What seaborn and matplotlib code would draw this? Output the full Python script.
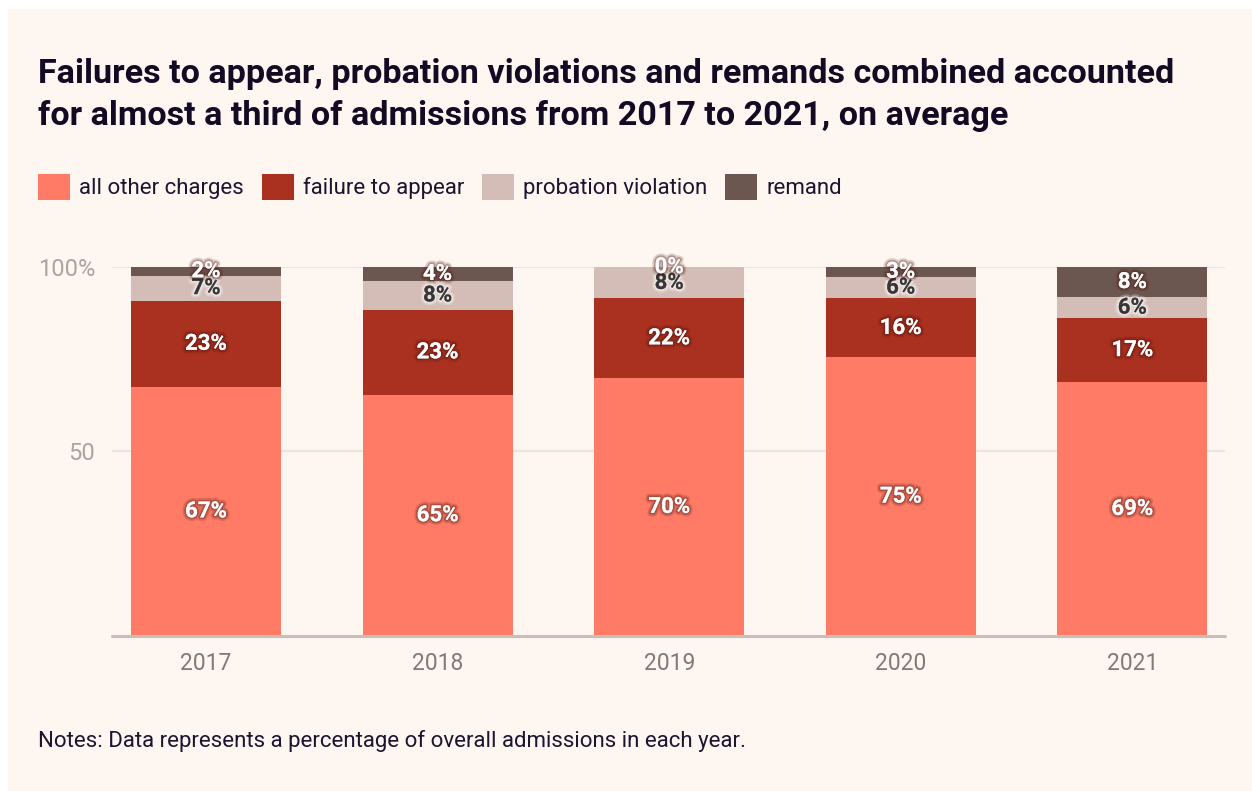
import numpy as np
import pandas as pd
import seaborn as sns
import matplotlib.pyplot as plt
import matplotlib.patheffects as pe
from matplotlib.patches import Rectangle, Patch

# Data (percent of admissions)
years = ["2017", "2018", "2019", "2020", "2021"]
all_other = [67.4, 65.3, 69.8, 75.4, 68.7]
failure_to_appear = [23.4, 23.0, 21.6, 16.0, 17.4]
probation_violation = [6.8, 7.8, 8.4, 5.9, 5.6]
remand = [2.4, 3.9, 0.2, 2.7, 8.3]

categories = ["all other charges", "failure to appear", "probation violation", "remand"]
colors = ["#FF7B65", "#AA3020", "#D4BDB6", "#6C5750"]

BG = "#FEF6F0"
TITLE_COLOR = "#130B23"

df = pd.DataFrame({
	"year": years,
	"all other charges": all_other,
	"failure to appear": failure_to_appear,
	"probation violation": probation_violation,
	"remand": remand,
})
# cumulative tops for stacking (seaborn overlay trick)
cum = df[categories].cumsum(axis=1)
cum["year"] = df["year"]

sns.set_theme(style="white")
plt.rcParams["font.family"] = ["Roboto", "DejaVu Sans"]

fig = plt.figure(figsize=(12.52, 7.91), dpi=100, facecolor="white")
# cream panel with thin white margin top and left
fig.patches.append(Rectangle((8 / 1252, 0), 1, 1 - 9 / 791, transform=fig.transFigure,
	facecolor=BG, edgecolor="none", zorder=-10))

ax = fig.add_axes([112 / 1252, 1 - 635.7 / 791, (1225 - 112) / 1252, (635.7 - 266.7) / 791])
ax.set_facecolor(BG)

# draw from the top of the stack down so each segment overlays the previous
for cat, col in reversed(list(zip(categories, colors))):
	sns.barplot(data=cum, x="year", y=cat, color=col, saturation=1, width=0.647,
		errorbar=None, ax=ax, zorder=2, linewidth=0, edgecolor="none")

ax.set_xlim(-0.406, 4.4)
ax.set_ylim(0, 100)
ax.set_xlabel("")
ax.set_ylabel("")
for s in ax.spines.values():
	s.set_visible(False)

ax.set_yticks([50, 100])
ax.set_yticklabels(["50", "100%"])
ax.grid(axis="y", color="#EFE3DC", linewidth=1.6, zorder=0)
ax.grid(axis="x", visible=False)
ax.set_axisbelow(True)
ax.axhline(0, color="#CDBDB5", linewidth=2.2, zorder=3, clip_on=False)
ax.tick_params(axis="y", length=0, pad=12, labelsize=17, labelcolor="#ABA4A0")
ax.tick_params(axis="x", length=0, pad=12, labelsize=16.5, labelcolor="#807A78")

# segment labels
dark_glow = [pe.withStroke(linewidth=5, foreground=(0.3, 0.08, 0.05, 0.18)),
	pe.withStroke(linewidth=2.5, foreground=(0.3, 0.08, 0.05, 0.3))]
light_glow = [pe.withStroke(linewidth=5, foreground=(1, 1, 1, 0.25)),
	pe.withStroke(linewidth=2.5, foreground=(1, 1, 1, 0.45))]
for i in range(len(years)):
	bottom = 0
	for cat in categories:
		val = df.loc[i, cat]
		if cat == "probation violation":
			tc, eff = "#363636", light_glow
		else:
			tc, eff = "white", dark_glow
		ax.text(i, bottom + val / 2, f"{round(val)}%", ha="center", va="center",
			fontsize=16, fontweight="bold", color=tc, path_effects=eff,
			zorder=5, clip_on=False)
		bottom += val

# title
fig.text(38 / 1252, 1 - 83 / 791,
	"Failures to appear, probation violations and remands combined accounted",
	fontsize=24.6, fontweight="bold", color=TITLE_COLOR, va="baseline")
fig.text(38 / 1252, 1 - 125 / 791,
	"for almost a third of admissions from 2017 to 2021, on average",
	fontsize=24.6, fontweight="bold", color=TITLE_COLOR, va="baseline")

# legend
handles = [Patch(facecolor=c, edgecolor="none") for c in colors]
leg = fig.legend(handles, categories, loc="center left",
	bbox_to_anchor=(38 / 1252, 1 - 187 / 791), ncol=4, frameon=False,
	fontsize=16, handlelength=1.45, handleheight=1.45, handletextpad=0.4,
	columnspacing=0.8, borderpad=0, borderaxespad=0)
for t in leg.get_texts():
	t.set_color("#1B1530")

# notes
fig.text(38 / 1252, 1 - 741 / 791,
	"Notes: Data represents a percentage of overall admissions in each year.",
	fontsize=16, color="#1B1530", va="center")

fig.savefig("out.png", dpi=100, facecolor=fig.get_facecolor())
